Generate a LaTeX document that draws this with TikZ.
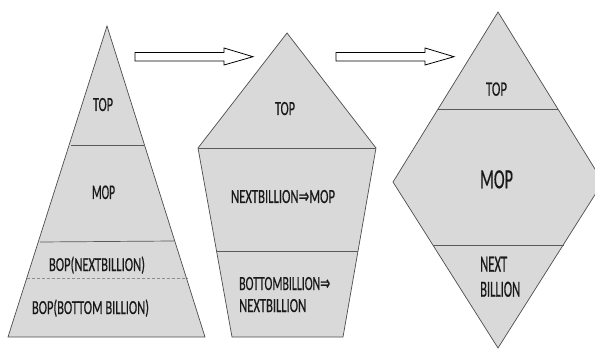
\documentclass[tikz,border=0pt]{standalone}
\usepackage{fontspec}
\usepackage{graphicx}
\setmainfont[FakeBold=0.6]{Carlito}
\newfontfamily\dv[FakeBold=0.6]{DejaVu Sans}
\newcommand{\fitlab}[3]{\resizebox{#1pt}{#2pt}{#3}}
\tikzset{
  shapefill/.style={fill=gray!30, draw=black!70, line width=0.7pt, line join=miter},
  divider/.style={draw=black!65, line width=0.7pt},
  dashdiv/.style={draw=black!45, line width=0.6pt, densely dashed},
  bigarrow/.style={fill=white, draw=black, line width=0.8pt},
  lbl/.style={font=\fontsize{20}{22}\selectfont, text=black!90, inner sep=0pt, anchor=base},
  lblw/.style={lbl, anchor=base west},
}
\begin{document}
\begin{tikzpicture}[x=1pt,y=-1pt]
\useasboundingbox (0,0) rectangle (595,350);
\clip (0,0) rectangle (595,350);
% pyramid
\draw[shapefill] (107,26) -- (205,337) -- (8,337) -- cycle;
\draw[divider] (71,145) -- (144,145);
\draw[divider] (40,242) -- (174,241);
\draw[dashdiv] (27,278) -- (188,278);
\node[lbl] (p1) at (103,111) {\fitlab{20}{13}{TOP}};
\node[lbl] (p2) at (103.5,199) {\fitlab{23}{13.5}{MOP}};
\node[lbl] (p3) at (97,271) {\fitlab{96}{14.5}{BOP(NEXTBILLION)}};
\node[lbl] (p4) at (90.5,314) {\fitlab{117}{14.5}{BOP(BOTTOM BILLION)}};
% arrow 1
\draw[bigarrow] (135,52.5) -- (224,52.5) -- (224,48) -- (253,56.7) -- (224,65) -- (224,61) -- (135,61) -- cycle;
% pentagon
\draw[shapefill] (287,33) -- (376,148) -- (343,337) -- (232,337) -- (198,148) -- cycle;
\draw[divider] (198,148) -- (376,148);
\draw[divider] (217,251) -- (358,251);
\node[lbl] (q1) at (285,115) {\fitlab{20}{13}{TOP}};
\node[lbl] (q2) at (283,203) {\fitlab{104}{13}{NEXTBILLION{\dv ⇒}MOP}};
\node[lblw] (q3) at (239,290) {\fitlab{91}{13}{BOTTOMBILLION{\dv ⇒}}};
\node[lblw] (q4) at (239,312) {\fitlab{67}{13}{NEXTBILLION}};
% arrow 2
\draw[bigarrow] (336,52.5) -- (425,52.5) -- (425,48) -- (454,56.7) -- (425,65) -- (425,61) -- (336,61) -- cycle;
% diamond
\draw[shapefill] (498,12) -- (603,182) -- (498,348) -- (393,182) -- cycle;
\draw[divider] (438,109.5) -- (558,109.5);
\draw[divider] (433,245) -- (564,245);
\node[lbl] (d1) at (496.5,95.7) {\fitlab{21}{13.3}{TOP}};
\node[lbl] (d2) at (496.5,188.3) {\fitlab{33}{18}{MOP}};
\node[lblw] (d3) at (480,271.7) {\fitlab{27}{15}{NEXT}};
\node[lblw] (d4) at (480,296.7) {\fitlab{40}{15}{BILLION}};
\end{tikzpicture}
\end{document}
